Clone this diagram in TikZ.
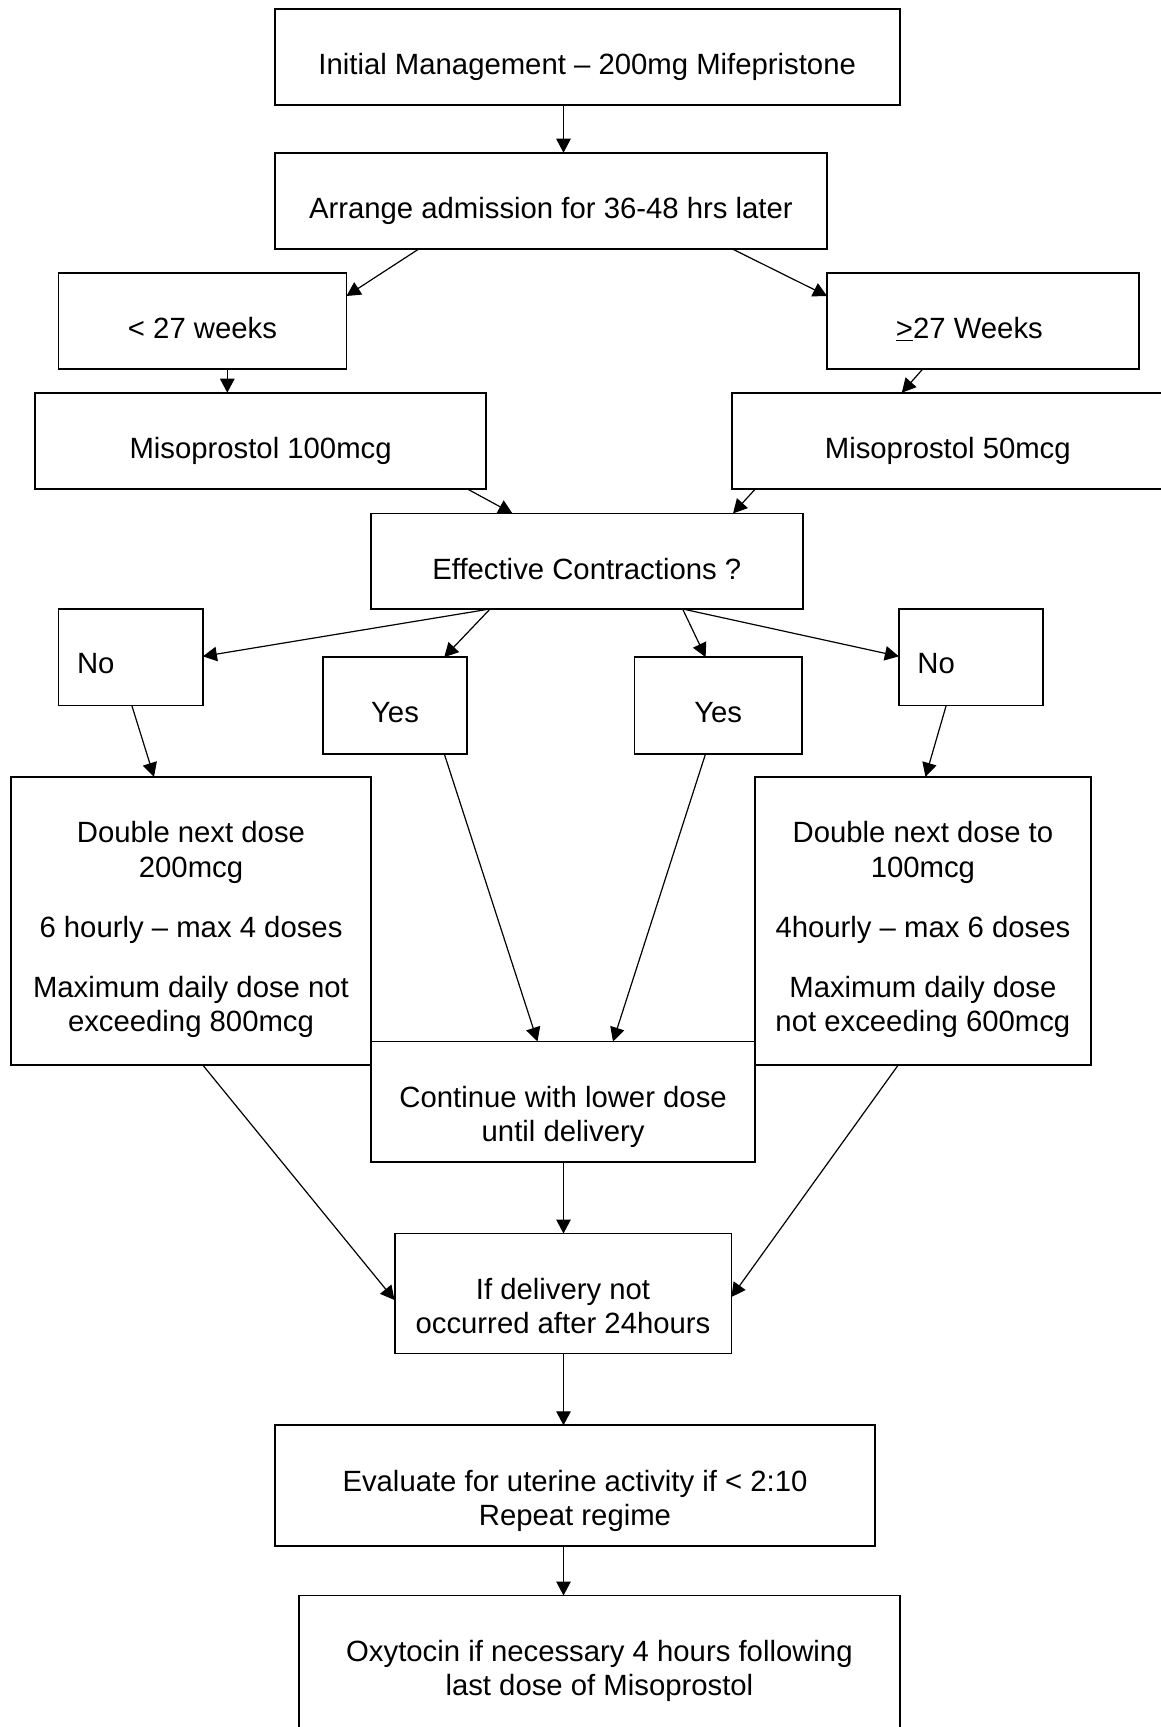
\documentclass[tikz,border=0pt]{standalone}
\usepackage{fontspec}
\setmainfont{Liberation Sans}
\usetikzlibrary{arrows.meta}
\newcommand{\boxtxt}[3]{\parbox[c][#2pt][t]{#1pt}{\centering\vspace*{44.7pt}#3\par}}
\tikzset{
  bx/.style={draw, line width=1.9pt, inner sep=0pt, outer sep=0pt},
  arr/.style={line width=1.2pt, -{Triangle[length=14pt,width=14.5pt]}},
  every node/.style={font=\fontsize{29.3pt}{34.5pt}\selectfont}
}
\begin{document}
\begin{tikzpicture}[x=1pt,y=-1pt]
\fill[white] (0,0) rectangle (1161,1727);
\useasboundingbox (0,0) rectangle (1161,1727);
\clip (0,0) rectangle (1161,1727);

\node[bx] (b1) at (587.2,57.2) {\boxtxt{624.9}{96.3}{Initial Management – 200mg Mifepristone}};
\node[bx] (b2) at (550.9,201) {\boxtxt{552.3}{96.6}{Arrange admission for 36-48 hrs later}};
\node[bx] (lt) at (202.5,321) {\boxtxt{288}{96.6}{< 27 weeks}};
\node[bx] (gt) at (982.9,321) {\boxtxt{311.7}{96.6}{\underline{>}27 Weeks\kern27pt}};
\node[bx] (m100) at (260.6,441) {\boxtxt{451.6}{96.6}{Misoprostol 100mcg}};
\node[bx] (m50) at (947.8,441) {\boxtxt{432.5}{96.6}{Misoprostol 50mcg}};
\node[bx] (eff) at (586.8,561.2) {\boxtxt{431.6}{95.5}{Effective Contractions ?}};
\node[bx] (noL) at (130.7,657.2) {\boxtxt{144.4}{96.5}{\hspace*{18.5pt}No\hfill\null}};
\node[bx] (yesL) at (395,705.4) {\boxtxt{144.4}{96.5}{Yes}};
\node[bx] (yesR) at (718.2,705.4) {\boxtxt{167.4}{96.5}{Yes}};
\node[bx] (noR) at (971,657.2) {\boxtxt{144.3}{96.5}{\hspace*{18.5pt}No\hfill\null}};
\node[bx] (dblL) at (191,921) {\boxtxt{359.9}{288.4}{Double next dose\\200mcg\\[25.6pt]6 hourly – max 4 doses\\[25.6pt]Maximum daily dose not\\exceeding 800mcg}};
\node[bx] (dblR) at (922.9,921) {\boxtxt{335.4}{288.4}{Double next dose to\\100mcg\\[25.6pt]4hourly – max 6 doses\\[25.6pt]Maximum daily dose\\not exceeding 600mcg}};
\node[bx] (cont) at (563.1,1101.5) {\boxtxt{384.2}{120.1}{Continue with lower dose\\until delivery}};
\node[bx] (ifd) at (563,1293.5) {\boxtxt{336.9}{120}{If delivery not\\occurred after 24hours}};
\node[bx] (evl) at (575,1485.6) {\boxtxt{600.5}{120.7}{Evaluate for uterine activity if < 2:10\\Repeat regime}};
\node[bx] (oxy) at (599.4,1670.25) {\boxtxt{600.5}{149.5}{Oxytocin if necessary 4 hours following\\last dose of Misoprostol}};

\draw[arr] ([xshift=-23.7pt]b1.south) -- ([xshift=12.6pt]b2.north);
\draw[arr] ([xshift=-132.6pt]b2.south) -- ([yshift=-23.3pt]lt.north east);
\draw[arr] ([xshift=182.1pt]b2.south) -- ([yshift=-23.3pt]gt.north west);
\draw[arr] ([xshift=24.8pt]lt.south) -- ([xshift=-33.3pt]m100.north);
\draw[arr] ([xshift=-60.4pt]gt.south) -- ([xshift=-46pt]m50.north);
\draw[arr] ([xshift=207.4pt]m100.south) -- ([xshift=-74.4pt]eff.north);
\draw[arr] ([xshift=-192.8pt]m50.south) -- ([xshift=146.2pt]eff.north);
\draw[arr] ([xshift=-96.7pt]eff.south) -- ([yshift=-47.4pt]noL.north east);
\draw[arr] ([xshift=-96.7pt]eff.south) -- ([xshift=49.2pt]yesL.north);
\draw[arr] ([xshift=95.8pt]eff.south) -- ([xshift=-12.6pt]yesR.north);
\draw[arr] ([xshift=95.8pt]eff.south) -- ([yshift=-47.4pt]noR.north west);
\draw[arr] ([xshift=1.1pt]noL.south) -- ([xshift=-37pt]dblL.north);
\draw[arr] ([xshift=-24.8pt]noR.south) -- ([xshift=2.6pt]dblR.north);
\draw[arr] ([xshift=49.2pt]yesL.south) -- ([xshift=-25.6pt]cont.north);
\draw[arr] ([xshift=-12.6pt]yesR.south) -- ([xshift=49.9pt]cont.north);
\draw[arr] ([xshift=11.9pt]dblL.south) -- ([yshift=-6.5pt]ifd.west);
\draw[arr] ([xshift=-24.8pt]dblR.south) -- ([yshift=-3.5pt]ifd.east);
\draw[arr] ([xshift=0.4pt]cont.south) -- ([xshift=0.5pt]ifd.north);
\draw[arr] ([xshift=0.5pt]ifd.south) -- ([xshift=-11.5pt]evl.north);
\draw[arr] ([xshift=-11.5pt]evl.south) -- ([xshift=-35.9pt]oxy.north);
\end{tikzpicture}
\end{document}
